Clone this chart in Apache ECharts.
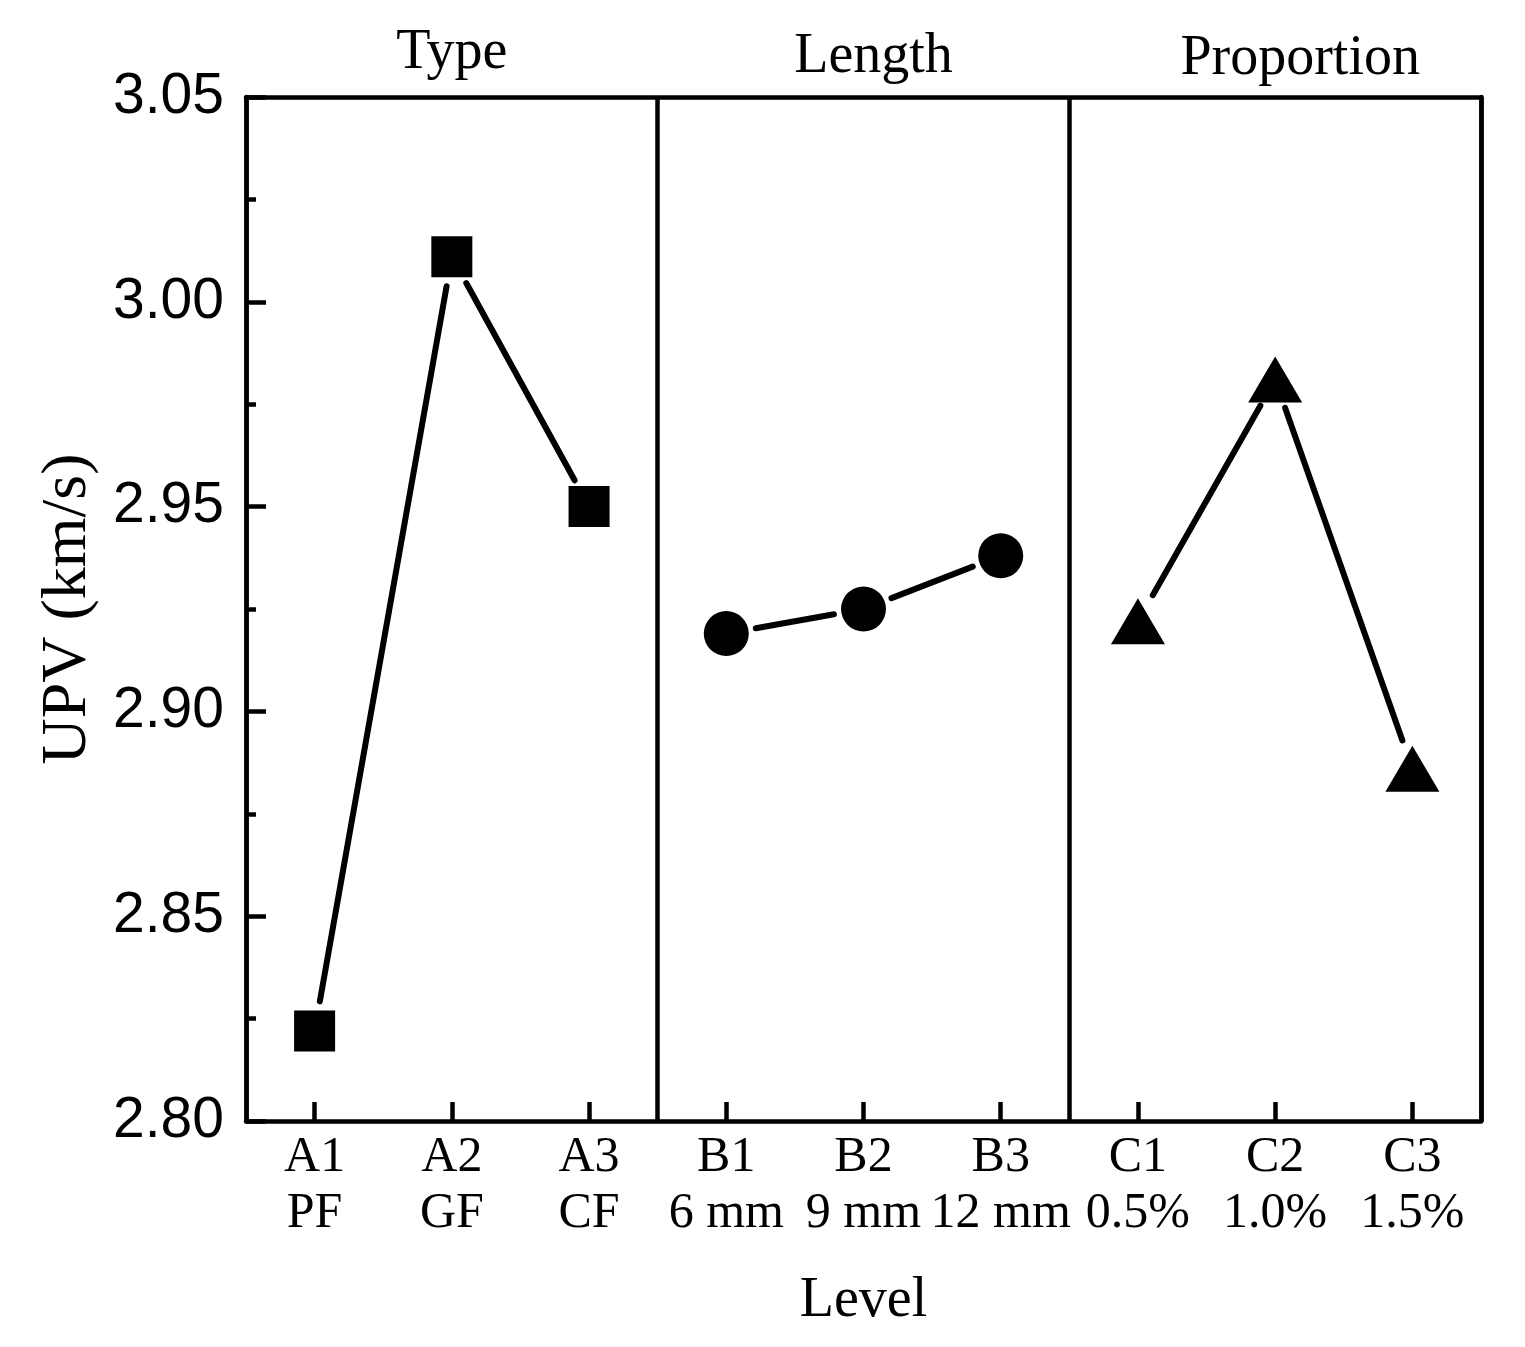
<!DOCTYPE html>
<html>
<head>
<meta charset="utf-8">
<script src="https://cdn.jsdelivr.net/npm/echarts@6/dist/echarts.min.js"></script>
<style>html,body{margin:0;padding:0;background:#fff;}#c{width:1525px;height:1347px;}</style>
</head>
<body>
<div id="c"></div>
<script>
var categories = ['A1\nPF','A2\nGF','A3\nCF','B1\n6 mm','B2\n9 mm','B3\n12 mm','C1\n0.5%','C2\n1.0%','C3\n1.5%'];
var groups = ['Type','Length','Proportion'];
var typeValues = [2.822, 3.011, 2.950];
var lengthValues = [2.919, 2.925, 2.938];
var proportionValues = [2.922, 2.981, 2.886];
var yTicks = [2.80, 2.85, 2.90, 2.95, 3.00, 3.05];

var SERIF = '"Liberation Serif","Times New Roman",serif';
var SANS = '"Liberation Sans",Arial,sans-serif';

function full(vals, g) {
  var arr = [];
  for (var i = 0; i < 9; i++) arr.push('-');
  for (var j = 0; j < 3; j++) arr[g * 3 + j] = vals[j];
  return arr;
}
var segs = [];
[typeValues, lengthValues, proportionValues].forEach(function (vals, g) {
  for (var i = 0; i < 2; i++) segs.push([g * 3 + i, vals[i], g * 3 + i + 1, vals[i + 1]]);
});

var chart = echarts.init(document.getElementById('c'), null, {renderer: 'canvas'});
var GAP = 30;
var AXW = 4.5;
chart.setOption({
  animation: false,
  backgroundColor: '#fff',
  grid: {left: 246, right: 44, top: 97, bottom: 226},
  xAxis: [{
    type: 'category',
    data: categories,
    position: 'bottom',
    boundaryGap: true,
    name: 'Level',
    nameLocation: 'middle',
    nameGap: 152,
    nameTextStyle: {fontFamily: SERIF, fontSize: 56, color: '#000'},
    axisLine: {show: true, lineStyle: {color: '#000', width: AXW}},
    axisTick: {show: true, inside: true, alignWithLabel: true, length: 19, interval: 0, lineStyle: {color: '#000', width: AXW}},
    axisLabel: {interval: 0, margin: 9, fontFamily: SERIF, fontSize: 50, lineHeight: 56, color: '#000'},
    splitLine: {show: false}
  }, {
    type: 'category',
    data: [
      {value: groups[0], textStyle: {padding: [0, 0, 6, 0]}},
      {value: groups[1], textStyle: {padding: [0, 0, 2, 20]}},
      {value: groups[2], textStyle: {padding: [0, 0, 0, 50]}}
    ],
    position: 'top',
    boundaryGap: true,
    axisLine: {show: true, lineStyle: {color: '#000', width: AXW}},
    axisTick: {show: false},
    axisLabel: {interval: 0, margin: 10, fontFamily: SERIF, fontSize: 56, color: '#000'},
    splitLine: {show: true, interval: 0, lineStyle: {color: '#000', width: AXW}}
  }],
  yAxis: [{
    type: 'value',
    min: 2.80, max: 3.05, interval: 0.05,
    name: 'UPV (km/s)',
    nameLocation: 'middle',
    nameGap: 146,
    nameTextStyle: {fontFamily: SERIF, fontSize: 64, color: '#000'},
    axisLine: {show: true, lineStyle: {color: '#000', width: AXW}},
    axisTick: {show: true, inside: true, length: 20, lineStyle: {color: '#000', width: AXW}},
    minorTick: {show: true, splitNumber: 2, length: 10, lineStyle: {color: '#000', width: AXW}},
    axisLabel: {margin: 22, fontFamily: SANS, fontSize: 57, color: '#000',
      formatter: function (v) { return v.toFixed(2); }},
    splitLine: {show: false}
  }, {
    type: 'value',
    min: 2.80, max: 3.05, interval: 0.05,
    position: 'right',
    axisLine: {show: true, lineStyle: {color: '#000', width: AXW}},
    axisTick: {show: false},
    axisLabel: {show: false},
    splitLine: {show: false}
  }],
  series: [{
    type: 'custom',
    xAxisIndex: 0, yAxisIndex: 0,
    data: segs,
    encode: {x: [0, 2], y: [1, 3]},
    clip: false,
    z: 2,
    renderItem: function (params, api) {
      var p1 = api.coord([api.value(0), api.value(1)]);
      var p2 = api.coord([api.value(2), api.value(3)]);
      var dx = p2[0] - p1[0], dy = p2[1] - p1[1];
      var L = Math.sqrt(dx * dx + dy * dy);
      var ux = dx / L, uy = dy / L;
      return {
        type: 'line',
        shape: {x1: p1[0] + ux * GAP, y1: p1[1] + uy * GAP, x2: p2[0] - ux * GAP, y2: p2[1] - uy * GAP},
        style: {stroke: '#000', lineWidth: 6, lineCap: 'round'}
      };
    }
  }, {
    type: 'scatter', name: groups[0],
    data: full(typeValues, 0),
    symbol: 'rect', symbolSize: 41,
    itemStyle: {color: '#000', opacity: 1}, z: 3
  }, {
    type: 'scatter', name: groups[1],
    data: full(lengthValues, 1),
    symbol: 'circle', symbolSize: 45,
    itemStyle: {color: '#000', opacity: 1}, z: 3
  }, {
    type: 'scatter', name: groups[2],
    data: full(proportionValues, 2),
    symbol: 'triangle', symbolSize: [54, 46],
    itemStyle: {color: '#000', opacity: 1}, z: 3
  }]
});
</script>
</body>
</html>
